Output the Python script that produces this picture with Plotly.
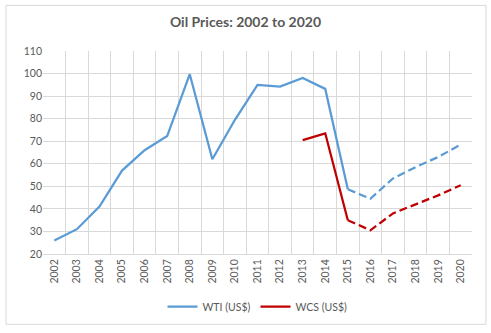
import plotly.graph_objects as go

years = [str(y) for y in range(2002, 2021)]
wti = [26, 31, 41, 57, 66, 72.3, 99.7, 62, 79.5, 95, 94.2, 98, 93.2, 48.7, 44.5, 53.5, 58.5, 63, 68.5]
wcs = [None]*11 + [70.5, 73.5, 35, 30.5, 38, 42, 46, 50.5]
split_idx = 13  # 2015: forecast (dashed) begins

blue = "#5b9bd5"
red = "#c00000"

fig = go.Figure()
fig.add_trace(go.Scatter(x=years[:split_idx+1], y=wti[:split_idx+1], mode="lines",
                         name="WTI (US$)", line=dict(color=blue, width=2.25)))
fig.add_trace(go.Scatter(x=years[:split_idx+1], y=wcs[:split_idx+1], mode="lines",
                         name="WCS (US$)", line=dict(color=red, width=2.25)))
fig.add_trace(go.Scatter(x=years[split_idx:], y=wti[split_idx:], mode="lines",
                         showlegend=False, line=dict(color=blue, width=2.25, dash="8px,4px")))
fig.add_trace(go.Scatter(x=years[split_idx:], y=wcs[split_idx:], mode="lines",
                         showlegend=False, line=dict(color=red, width=2.25, dash="8px,4px")))

fig.update_layout(
    width=491, height=333,
    margin=dict(l=43, r=19, t=51, b=77),
    paper_bgcolor="white", plot_bgcolor="white",
    font=dict(family="Lato, Open Sans, sans-serif", color="#595959", size=10),
    title=dict(text="<b>Oil Prices: 2002 to 2020</b>", x=0.5, xanchor="center", y=0.934, yanchor="middle",
               font=dict(size=14, color="#595959")),
    xaxis=dict(type="category", categoryorder="array", categoryarray=years,
               tickson="boundaries", showgrid=True, gridcolor="#d9d9d9", gridwidth=1,
               tickangle=-90, ticks="", showline=True, linecolor="#d9d9d9",
               range=[-0.5, 18.5], tickfont=dict(size=10.5, color="#595959")),
    yaxis=dict(range=[20, 110], dtick=10, tick0=20, showgrid=True, gridcolor="#d9d9d9",
               zeroline=False, ticks="", showline=False, tickfont=dict(size=10.5, color="#595959")),
    legend=dict(orientation="h", x=0.5, xanchor="center", y=-0.259, yanchor="middle",
                itemwidth=30, font=dict(size=10.5, color="#595959")),
    shapes=[dict(type="rect", xref="paper", yref="paper", x0=-0.0862, x1=1.0326, y0=-0.3463, y1=1.2244,
                 line=dict(color="#d9d9d9", width=1), layer="below")],
)

fig.write_html("out.html")
